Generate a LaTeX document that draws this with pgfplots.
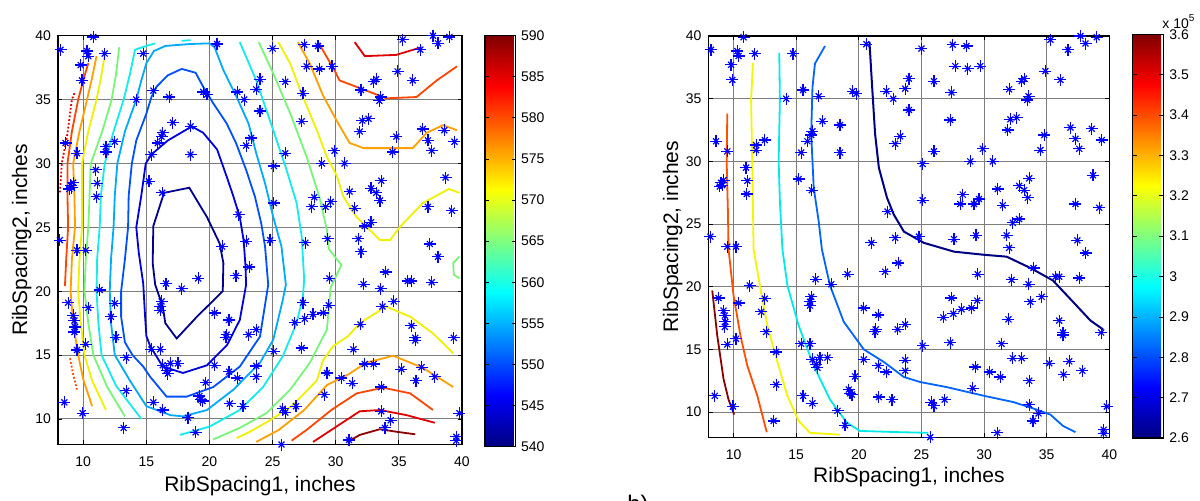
\documentclass[border=0pt]{standalone}
\usepackage{fontspec}
\setmainfont{Liberation Sans}
\usepackage{pgfplots}
\pgfplotsset{compat=1.18}
\usepackage{pgfplotstable}

\definecolor{cA}{RGB}{0,0,140}
\definecolor{cB}{RGB}{0,0,220}
\definecolor{cC}{RGB}{0,80,255}
\definecolor{cD}{RGB}{0,170,255}
\definecolor{cE}{RGB}{20,235,235}
\definecolor{cF}{RGB}{120,245,120}
\definecolor{cG}{RGB}{240,240,0}
\definecolor{cH}{RGB}{255,160,0}
\definecolor{cI}{RGB}{255,70,0}
\definecolor{cJ}{RGB}{225,0,0}
\definecolor{cK}{RGB}{140,0,0}
\definecolor{rA}{RGB}{0,0,130}
\definecolor{rB}{RGB}{0,100,255}
\definecolor{rC}{RGB}{0,235,230}
\definecolor{rD}{RGB}{245,245,0}
\definecolor{rE}{RGB}{255,80,0}
\definecolor{rF}{RGB}{140,0,0}
\definecolor{gridc}{RGB}{125,125,125}

\pgfplotstableread{
x y
8.2 38.9
10.8 39.9
10.3 38.8
10.4 38.4
11.7 38.6
9.8 37.7
9.9 36.5
14.75 38.6
15.55 35.7
14.2 35.0
16.8 35.2
19.5 35.6
19.8 35.4
20.6 39.35
17.1 33.2
16.3 32.4
16.2 32.1
15.9 31.6
18.5 32.9
18.5 30.7
15.4 30.7
8.6 31.6
9.5 30.8
11.8 31.3
11.8 30.9
12.5 31.7
11.0 29.5
24.0 36.6
22.2 35.6
22.75 35.0
23.7 35.8
24.0 34.1
23.3 32.0
22.9 31.4
25.0 39.0
26.0 36.4
25.1 29.8
26.0 30.8
27.5 39.3
28.6 39.2
27.7 37.6
28.7 37.4
29.7 37.6
27.4 35.5
27.3 33.3
29.9 31.0
30.7 30.0
28.9 30.0
32.1 33.35
32.6 33.5
31.9 32.5
32.0 35.75
33.0 36.4
33.2 36.6
33.55 35.2
33.45 34.9
34.9 37.2
36.1 36.5
35.3 39.7
36.7 38.9
37.7 40.0
38.1 39.4
39.0 39.9
34.8 32.1
34.5 30.9
36.9 32.7
37.3 31.8
37.6 31.0
38.6 32.6
39.4 31.7
9.0 28.3
8.9 28.0
9.2 28.5
9.1 28.1
11.1 28.45
11.05 27.4
15.2 28.6
16.25 27.7
8.15 24.0
10.2 23.2
9.5 23.2
22.3 26.0
22.9 23.9
21.0 23.5
25.1 26.9
24.8 24.0
38.7 28.9
33.6 28.65
32.8 28.05
33.2 27.7
33.5 27.1
31.1 27.8
31.5 26.5
28.3 27.35
28.1 26.6
29.2 26.6
29.6 27.0
37.3 26.6
39.2 26.3
32.3 25.1
32.8 25.4
27.6 23.8
29.35 24.1
31.8 24.1
37.45 23.7
11.3 20.1
16.55 20.6
17.8 20.2
19.1 21.0
22.1 21.2
23.15 21.9
29.5 21.0
32.2 20.55
33.55 20.2
33.95 21.5
35.7 20.8
36.0 20.8
37.6 20.7
38.1 22.7
32.0 23.1
8.8 19.1
9.2 18.1
9.3 17.7
9.35 17.2
9.3 16.8
9.5 15.4
10.4 18.7
10.2 15.85
8.5 11.3
9.95 10.45
12.5 19.05
12.2 18.0
12.6 16.4
13.4 14.8
13.4 12.2
13.2 9.3
15.55 11.3
16.3 10.7
15.4 15.45
16.1 15.45
16.2 19.2
16.1 18.8
16.1 18.5
20.4 18.3
21.55 17.75
21.35 16.6
21.3 16.4
23.1 16.6
23.7 17.0
16.3 14.2
16.9 14.35
17.5 14.35
16.6 13.8
16.7 13.55
20.4 14.2
21.55 13.7
22.2 13.2
23.7 14.15
23.7 13.3
19.7 12.85
19.2 11.8
19.3 11.5
19.45 11.4
21.6 11.2
22.65 11.0
18.3 10.1
18.9 8.95
25.1 15.3
25.8 10.8
26.0 10.5
25.7 8.0
26.75 17.55
26.85 11.0
27.4 19.1
27.55 17.85
28.2 18.2
29.0 18.3
29.45 18.9
27.3 15.55
33.7 18.8
34.6 19.2
31.95 17.4
31.4 15.45
36.0 17.3
36.3 16.35
36.3 16.15
39.35 16.35
32.3 14.3
33.0 14.3
35.2 13.9
36.8 14.05
36.35 13.0
37.85 13.3
29.3 13.6
30.45 13.2
31.3 12.8
29.1 11.9
33.6 12.5
33.6 10.6
34.35 9.9
33.9 9.3
31.05 8.35
39.8 10.45
39.55 8.6
39.55 8.3
}\pts

\pgfplotsset{
  /pgf/number format/assume math mode=true,
  mat/.style={
    scale only axis, xmin=8, xmax=40, ymin=8, ymax=40,
    xtick={10,15,...,40}, ytick={10,15,...,40},
    grid=major, major grid style={gridc, line width=0.5pt},
    tick align=inside, major tick length=2.2pt,
    tick style={black, line width=0.4pt},
    axis line style={black, line width=0.6pt},
    ticklabel style={font=\fontsize{7}{8}\selectfont},
    xticklabel style={yshift=-2.7pt},
    label style={font=\fontsize{10.5}{12}\selectfont},
    xlabel={RibSpacing1, inches}, ylabel={RibSpacing2, inches},
    colorbar, colormap/jet,
  },
  cl/.style={line width=0.9pt, draw=#1},
  starA/.style={only marks, mark=+, mark size=3pt, blue, mark options={solid, line width=0.6pt}},
  starB/.style={only marks, mark=x, mark size=2.1pt, blue, mark options={solid, line width=0.6pt}},
}

\begin{document}
\begin{tikzpicture}
\useasboundingbox (0,0) rectangle (600pt,250pt);

% ---------------- left plot ----------------
\begin{axis}[mat,
  at={(29pt,27.75pt)}, anchor=south west,
  width=202pt, height=204.4pt,
  xlabel style={at={(axis description cs:0.5,-0.1155)}, anchor=base},
  ylabel style={at={(axis description cs:-0.0767,0.5)}, anchor=base},
  point meta min=540, point meta max=590,
  colorbar style={
    scale only axis,
    at={(parent axis.north east)}, anchor=north west, xshift=2.96pt,
    width=15.35pt, height=205.4pt,
    ytick={540,545,...,590},
    tick align=inside, major tick length=2pt,
    ytick pos=both, yticklabel pos=right,
    tick style={black, line width=0.4pt},
    axis line style={black, line width=0.6pt},
    yticklabel style={font=\fontsize{7}{8}\selectfont, xshift=-0.8pt},
    /pgf/number format/assume math mode=true,
  },
]
\addplot[cl=cA] coordinates {(16.4,27.7) (18.4,28.1) (19.8,25.8) (20.8,23.75) (21.1,22.2) (21.05,20.0) (19.0,18.0) (17.4,16.3) (16.5,17.5) (16.3,18.8) (15.7,20.5) (15.5,22.2) (15.55,25.1) (16.4,27.7)};
\addplot[cl=cB] coordinates {(15.4,30.7) (16.7,31.8) (18.6,32.9) (19.5,32.4) (20.6,31.1) (21.35,29.0) (21.9,27.4) (22.4,25.8) (22.7,24.0) (22.85,22.0) (22.9,20.5) (22.4,17.75) (21.4,15.8) (19.8,14.2) (17.9,13.6) (16.3,14.1) (15.3,15.7) (15.0,16.5) (14.9,18.0) (14.75,20.6) (14.4,23.0) (14.2,25.0) (14.6,27.5) (14.95,30.0) (15.4,30.7)};
\addplot[cl=cC] coordinates {(17.8,37.4) (18.9,37.1) (19.5,36.0) (20.3,34.7) (21.35,33.15) (22.1,31.6) (22.9,29.5) (23.6,27.4) (24.1,25.3) (24.4,23.5) (24.65,20.5) (24.0,16.45) (22.4,14.1) (20.3,12.5) (18.2,11.75) (16.6,11.75) (15.3,13.3) (14.75,14.1) (13.9,15.0) (13.3,16.0) (13.0,18.0) (13.0,20.0) (13.3,22.5) (13.55,25.0) (13.6,27.5) (13.85,30.0) (14.2,31.8) (15.0,33.9) (15.4,35.2) (15.8,36.0) (16.7,36.9) (17.8,37.4)};
\addplot[cl=cD] coordinates {(15.0,37.85) (15.6,38.8) (16.5,39.2) (18.45,39.35) (20.0,39.4) (20.4,39.1) (21.1,37.3) (22.15,35.2) (23.1,33.1) (23.7,30.8) (24.4,28.45) (25.05,25.8) (25.7,23.5) (26.05,20.5) (25.8,19.3) (25.05,16.2) (24.0,14.4) (21.9,12.3) (19.8,10.7) (17.9,10.2) (16.9,10.3) (15.0,11.0) (13.7,13.0) (12.5,15.0) (12.2,17.5) (12.1,20.0) (12.2,22.5) (12.4,25.0) (12.5,27.5) (12.7,30.0) (13.3,32.5) (14.2,35.0) (14.6,36.5) (15.0,37.85)};
\addplot[cl=cE] coordinates {(14.6,10.0) (12.6,12.6) (11.45,15.0) (11.2,17.5) (11.05,20.0) (11.1,22.5) (11.3,25.0) (11.4,27.5) (11.7,30.0) (12.4,32.5) (13.2,35.0) (13.7,37.0) (14.1,38.9) (15.0,39.2) (15.7,39.4)};
\addplot[cl=cE] coordinates {(17.8,39.6) (18.5,39.65)};
\addplot[cl=cE] coordinates {(22.4,39.5) (23.7,36.5) (25.05,32.6) (26.1,29.5) (26.9,26.9) (27.3,24.3) (27.5,20.9) (27.4,19.6) (26.9,17.5) (25.8,14.9) (24.25,12.5) (22.4,10.7) (20.0,9.4) (17.65,8.75)};
\addplot[cl=cF] coordinates {(12.85,39.1) (12.6,37.0) (12.25,35.0) (11.5,32.5) (10.6,30.0) (10.5,27.5) (10.4,25.0) (10.2,22.5) (10.1,20.0) (10.4,17.5) (10.8,15.0) (11.9,12.5) (13.3,10.2)};
\addplot[cl=cF] coordinates {(23.9,39.5) (25.05,37.05) (26.4,33.9) (27.7,30.5) (28.7,27.4) (29.3,24.8) (29.45,23.3) (30.45,22.05) (29.6,20.3) (29.3,17.0) (27.95,14.4) (26.4,12.3) (24.5,10.45) (22.4,9.3) (20.3,8.4)};
\addplot[cl=cF] coordinates {(39.8,22.7) (39.3,22.2) (39.35,21.3) (39.8,21.0)};
\addplot[cl=cG] coordinates {(11.7,38.5) (11.4,36.7) (11.05,35.0) (10.4,32.5) (9.9,30.0) (9.9,27.5) (9.9,25.0) (9.7,22.5) (9.6,20.0) (9.8,17.5) (10.1,15.0) (10.7,13.0) (11.8,10.7)};
\addplot[cl=cG] coordinates {(25.45,39.5) (26.4,37.8) (27.4,35.2) (28.5,32.6) (29.3,30.5) (30.1,29.0) (30.6,27.4) (31.65,25.8) (32.7,24.8) (33.5,24.0) (34.3,24.0) (35.1,25.05) (36.9,26.9) (38.95,28.0) (39.8,27.7)};
\addplot[cl=cG] coordinates {(22.15,8.5) (23.2,9.0) (24.8,9.9) (26.5,11.0) (28.5,13.0) (29.0,14.6) (29.8,15.7) (31.0,16.5) (31.9,17.5) (34.0,18.8) (35.9,18.0) (37.7,16.7) (39.3,15.15)};
\addplot[cl=cH] coordinates {(11.05,38.4) (10.7,36.7) (10.3,35.0) (9.7,32.5) (9.2,30.0) (9.3,27.5) (9.35,25.0) (9.1,22.5) (9.0,20.0) (9.2,17.5) (9.6,15.0) (10.0,13.1) (10.7,11.0)};
\addplot[cl=cH] coordinates {(27.0,39.5) (27.95,37.8) (29.0,35.3) (30.1,33.3) (31.1,31.6) (32.2,31.2) (34.3,31.2) (36.1,31.2) (37.2,32.4) (38.5,33.0) (39.6,32.6)};
\addplot[cl=cH] coordinates {(23.7,8.2) (25.5,9.15) (27.5,10.7) (29.3,12.65) (31.1,13.55) (32.4,14.4) (34.55,14.95) (36.9,14.0) (39.3,12.5)};
\addplot[cl=cI] coordinates {(10.4,37.85) (10.0,36.5) (9.6,35.0) (9.1,32.5) (8.75,30.0) (8.75,27.5) (8.8,25.0) (8.65,22.5) (8.55,20.4)};
\addplot[cl=cI, densely dotted] coordinates {(8.95,14.75) (9.2,13.5) (9.5,12.3)};
\addplot[cl=cI] coordinates {(28.6,39.5) (29.9,37.3) (30.3,36.5) (31.9,35.9) (34.0,35.1) (36.4,35.2) (38.0,36.5) (39.6,37.6)};
\addplot[cl=cI] coordinates {(26.5,8.3) (27.7,9.15) (29.65,10.7) (31.65,12.0) (33.75,12.45) (35.9,12.0) (37.7,10.7)};
\addplot[cl=cJ, densely dotted] coordinates {(9.3,35.5) (9.1,35.0) (8.7,32.0) (8.3,30.0) (8.15,27.7)};
\addplot[cl=cJ] coordinates {(31.5,39.5) (32.3,38.4) (34.8,38.5) (36.8,39.1)};
\addplot[cl=cJ] coordinates {(28.2,8.2) (30.05,9.4) (31.9,10.6) (33.5,10.7) (35.6,10.3) (37.85,9.7)};
\addplot[cl=cK] coordinates {(31.1,8.3) (31.9,8.75) (33.5,9.2) (34.8,9.0) (36.3,8.8)};
\addplot[starA] table[x=x,y=y] {\pts};
\addplot[starB] table[x=x,y=y] {\pts};
\end{axis}

% ---------------- right plot ----------------
\begin{axis}[mat,
  at={(354.25pt,31.4pt)}, anchor=south west,
  width=200.4pt, height=200.6pt,
  xlabel style={at={(axis description cs:0.5,-0.1124)}, anchor=base},
  ylabel style={at={(axis description cs:-0.0761,0.5)}, anchor=base},
  point meta min=2.6, point meta max=3.6,
  colorbar style={
    scale only axis,
    at={(parent axis.north east)}, anchor=north west, xshift=3.16pt, yshift=0.85pt,
    width=15.3pt, height=201.85pt,
    ytick={2.6,2.7,2.8,2.9,3.0,3.1,3.2,3.3,3.4,3.5,3.6},
    yticklabels={2.6,2.7,2.8,2.9,3,3.1,3.2,3.3,3.4,3.5,3.6},
    tick align=inside, major tick length=2pt,
    ytick pos=both, yticklabel pos=right,
    tick style={black, line width=0.4pt},
    axis line style={black, line width=0.6pt},
    yticklabel style={font=\fontsize{7}{8}\selectfont, xshift=-0.5pt},
  },
]
\addplot[cl=rF] coordinates {(8.3,19.7) (8.7,16.1) (9.2,12.65) (9.6,11.0) (10.05,9.8)};
\addplot[cl=rE] coordinates {(9.5,33.8) (9.45,30.0) (9.55,26.0) (9.6,23.0) (10.0,19.3) (10.55,16.1) (11.1,13.7) (11.9,11.3) (12.65,8.4)};
\addplot[cl=rD] coordinates {(11.55,37.85) (11.4,34.9) (11.5,29.5) (11.6,23.0) (12.1,20.1) (12.7,16.9) (13.5,14.0) (14.3,11.3) (15.2,9.3) (16.1,8.35) (18.5,8.2)};
\addplot[cl=rC] coordinates {(13.65,38.65) (13.7,34.9) (13.6,30.0) (13.7,26.8) (13.9,23.0) (14.3,20.1) (15.2,16.9) (16.4,13.7) (17.7,11.0) (19.05,9.15) (20.1,8.5) (23.3,8.4) (25.55,8.35)};
\addplot[cl=rB] coordinates {(17.3,39.2) (16.5,37.8) (16.3,35.9) (16.2,32.2) (16.4,27.9) (16.8,25.2) (17.05,23.0) (17.7,20.1) (18.8,17.2) (20.4,15.0) (22.0,14.0) (23.6,12.8) (24.9,12.4) (27.0,12.0) (30.0,11.3) (32.35,10.8) (34.2,10.2) (35.3,9.8) (36.3,8.9) (37.3,8.4)};
\addplot[cl=rA, line width=1pt] coordinates {(20.85,39.55) (21.05,36.2) (21.3,32.2) (21.6,29.5) (22.25,27.1) (22.8,25.75) (23.6,24.4) (25.2,23.5) (27.6,22.8) (30.0,22.55) (31.8,22.4) (33.7,21.5) (35.5,20.5) (37.1,18.8) (38.5,17.3) (39.5,16.6)};
\addplot[starA] table[x=x,y=y] {\pts};
\addplot[starB] table[x=x,y=y] {\pts};
\end{axis}

\node[anchor=base west, inner sep=0pt, font=\fontsize{7}{8}\selectfont] at (581pt,236pt) {x 10\textsuperscript{5}};
\node[anchor=north, inner sep=0pt, font=\fontsize{12}{14}\selectfont] at (319pt,2.5pt) {b)};
\end{tikzpicture}
\end{document}
